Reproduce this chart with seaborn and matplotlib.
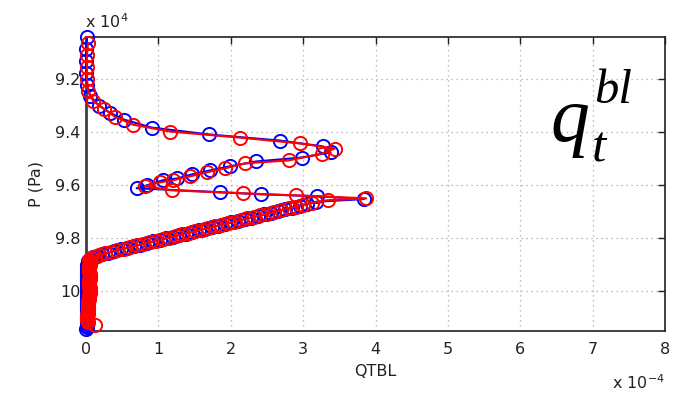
import matplotlib
matplotlib.use("Agg")
import matplotlib.pyplot as plt
import seaborn as sns

# Profile of boundary-layer total water (QTBL, units of 1e-4) against pressure (units of 1e4 Pa)
p_blue = [9.042, 9.087, 9.132, 9.177, 9.223, 9.264, 9.301, 9.328, 9.354, 9.384,
          9.410, 9.433, 9.455, 9.478, 9.497, 9.512, 9.530, 9.546, 9.561, 9.576,
          9.583, 9.602, 9.613, 9.628, 9.636, 9.643, 9.654,
          9.664, 9.672, 9.679, 9.686, 9.692, 9.699, 9.706, 9.712, 9.718, 9.724,
          9.730, 9.736, 9.742, 9.748, 9.754, 9.760, 9.766, 9.772, 9.778, 9.784,
          9.790, 9.796, 9.802, 9.808, 9.814, 9.820, 9.826, 9.832, 9.838, 9.844,
          9.850, 9.856, 9.862, 9.868, 9.874, 9.880, 9.886,
          9.892, 9.898, 9.904, 9.910, 9.916, 9.922, 9.928, 9.934, 9.940, 9.946,
          9.952, 9.958, 9.964, 9.970, 9.976, 9.982, 9.988, 9.994, 10.000, 10.006,
          10.012, 10.018, 10.024, 10.030, 10.036, 10.042, 10.048, 10.054, 10.060,
          10.066, 10.072, 10.078, 10.084, 10.090, 10.096, 10.102, 10.108, 10.114,
          10.120, 10.126, 10.132, 10.138, 10.146]
q_blue = [0.014, 0.00, 0.00, 0.00, 0.014, 0.055, 0.18, 0.33, 0.525, 0.91,
          1.70, 2.68, 3.27, 3.38, 2.98, 2.35, 1.99, 1.71, 1.46, 1.26,
          1.06, 0.84, 0.70, 1.85, 2.42, 3.19, 3.84,
          3.18, 3.06, 2.95, 2.85, 2.75, 2.65, 2.55, 2.46, 2.37, 2.28,
          2.19, 2.10, 2.01, 1.92, 1.83, 1.74, 1.65, 1.56, 1.47, 1.38,
          1.29, 1.20, 1.11, 1.02, 0.93, 0.84, 0.75, 0.66, 0.57, 0.48,
          0.39, 0.30, 0.22, 0.15, 0.09, 0.05, 0.03,
          0.03, 0.03, 0.02, 0.02, 0.02, 0.02, 0.02, 0.02, 0.02, 0.02,
          0.02, 0.02, 0.02, 0.02, 0.02, 0.02, 0.02, 0.02, 0.02, 0.02,
          0.02, 0.02, 0.02, 0.01, 0.01, 0.01, 0.01, 0.01, 0.01,
          0.01, 0.01, 0.01, 0.01, 0.01, 0.01, 0.01, 0.01, 0.01,
          0.01, 0.01, 0.01, 0.01, 0.00]

p_red = [9.065, 9.110, 9.155, 9.200, 9.245, 9.283, 9.313, 9.343, 9.373, 9.399,
         9.422, 9.444, 9.463, 9.482, 9.508, 9.519, 9.538, 9.553, 9.568, 9.583,
         9.591, 9.606, 9.621, 9.632, 9.640, 9.651,
         9.658, 9.668, 9.675, 9.682, 9.689, 9.696, 9.703, 9.709, 9.715, 9.721,
         9.727, 9.733, 9.739, 9.745, 9.751, 9.757, 9.763, 9.769, 9.775, 9.781,
         9.787, 9.793, 9.799, 9.805, 9.811, 9.817, 9.823, 9.829, 9.835, 9.841,
         9.847, 9.853, 9.859, 9.865, 9.871, 9.877, 9.883,
         9.889, 9.895, 9.901, 9.907, 9.913, 9.919, 9.925, 9.931, 9.937, 9.943,
         9.949, 9.955, 9.961, 9.967, 9.973, 9.979, 9.985, 9.991, 9.997, 10.003,
         10.009, 10.015, 10.021, 10.027, 10.033, 10.039, 10.045, 10.051, 10.057,
         10.063, 10.069, 10.075, 10.081, 10.087, 10.093, 10.099, 10.105, 10.111,
         10.117, 10.128]
q_red = [0.028, 0.014, 0.014, 0.014, 0.028, 0.097, 0.25, 0.40, 0.65, 1.16,
         2.13, 2.96, 3.44, 3.26, 2.80, 2.20, 1.92, 1.67, 1.44, 1.20,
         1.02, 0.81, 1.19, 2.17, 2.90, 3.87,
         3.34, 3.12, 3.00, 2.90, 2.80, 2.70, 2.60, 2.50, 2.41, 2.32,
         2.23, 2.14, 2.05, 1.96, 1.87, 1.78, 1.69, 1.60, 1.51, 1.42,
         1.33, 1.24, 1.15, 1.06, 0.97, 0.88, 0.79, 0.70, 0.61, 0.52,
         0.43, 0.34, 0.26, 0.18, 0.12, 0.07, 0.04,
         0.05, 0.05, 0.05, 0.04, 0.04, 0.04, 0.04, 0.04, 0.05, 0.05,
         0.05, 0.05, 0.04, 0.04, 0.04, 0.04, 0.04, 0.05, 0.05, 0.05,
         0.05, 0.04, 0.04, 0.04, 0.04, 0.03, 0.03, 0.03, 0.03,
         0.03, 0.03, 0.03, 0.03, 0.03, 0.02, 0.02, 0.02, 0.02,
         0.03, 0.12]

x_ticks = [0, 1, 2, 3, 4, 5, 6, 7, 8]
y_ticks = [9.2, 9.4, 9.6, 9.8, 10.0]
y_tick_labels = ["9.2", "9.4", "9.6", "9.8", "10"]

sns.set_theme(style="white")
plt.rcParams["font.family"] = ["DejaVu Sans"]

fig = plt.figure(figsize=(6.83, 3.93), dpi=100)
ax = fig.add_axes([86 / 683, 1 - 331 / 393, 579 / 683, 294 / 393])

for p, q, col in [(p_blue, q_blue, "#0000ff"), (p_red, q_red, "#ff0000")]:
    sns.lineplot(x=q, y=p, sort=False, estimator=None, ax=ax, color=col,
                 linewidth=1.5, marker="o", markersize=9.5,
                 markerfacecolor="none", markeredgecolor=col,
                 markeredgewidth=1.4, clip_on=False, zorder=3)

ax.set_xlim(0, 8)
ax.set_ylim(10.152, 9.042)
ax.set_xticks(x_ticks)
ax.set_xticklabels([str(t) for t in x_ticks])
ax.set_yticks(y_ticks)
ax.set_yticklabels(y_tick_labels)

ax.grid(True, color="#a8a8a8", linestyle=(0, (1, 3)), linewidth=0.9)
for s in ax.spines.values():
    s.set_visible(True)
    s.set_color("#202020")
    s.set_linewidth(1.2)
ax.spines["left"].set_linewidth(2.0)
ax.spines["left"].set_color("#404040")

ax.tick_params(axis="both", which="major", direction="in", length=5, width=1,
               color="#202020", top=True, right=True, labelsize=11.5,
               labelcolor="#222222")
ax.tick_params(axis="x", pad=8)
ax.tick_params(axis="y", pad=4)

ax.set_xlabel("QTBL", fontsize=11.5, color="#222222", labelpad=5)
ax.set_ylabel("P (Pa)", fontsize=11.5, color="#222222", labelpad=8)

fig.text(85 / 683, 1 - 28 / 393, r"x 10$^{4}$", fontsize=11.5, color="#222222",
         ha="left", va="baseline")
fig.text(612 / 683, 1 - 389 / 393, r"x 10$^{-4}$", fontsize=11.5, color="#222222",
         ha="left", va="baseline")

serif = ["Liberation Serif", "DejaVu Serif"]
fig.text(550 / 683, 1 - 141 / 393, "q", fontsize=56, family=serif, style="italic",
         color="black", ha="left", va="baseline")
fig.text(594 / 683, 1 - 103 / 393, "bl", fontsize=35, family=serif, style="italic",
         color="black", ha="left", va="baseline")
fig.text(592 / 683, 1 - 162 / 393, "t", fontsize=37, family=serif, style="italic",
         color="black", ha="left", va="baseline")

fig.savefig("out.png", dpi=100)
